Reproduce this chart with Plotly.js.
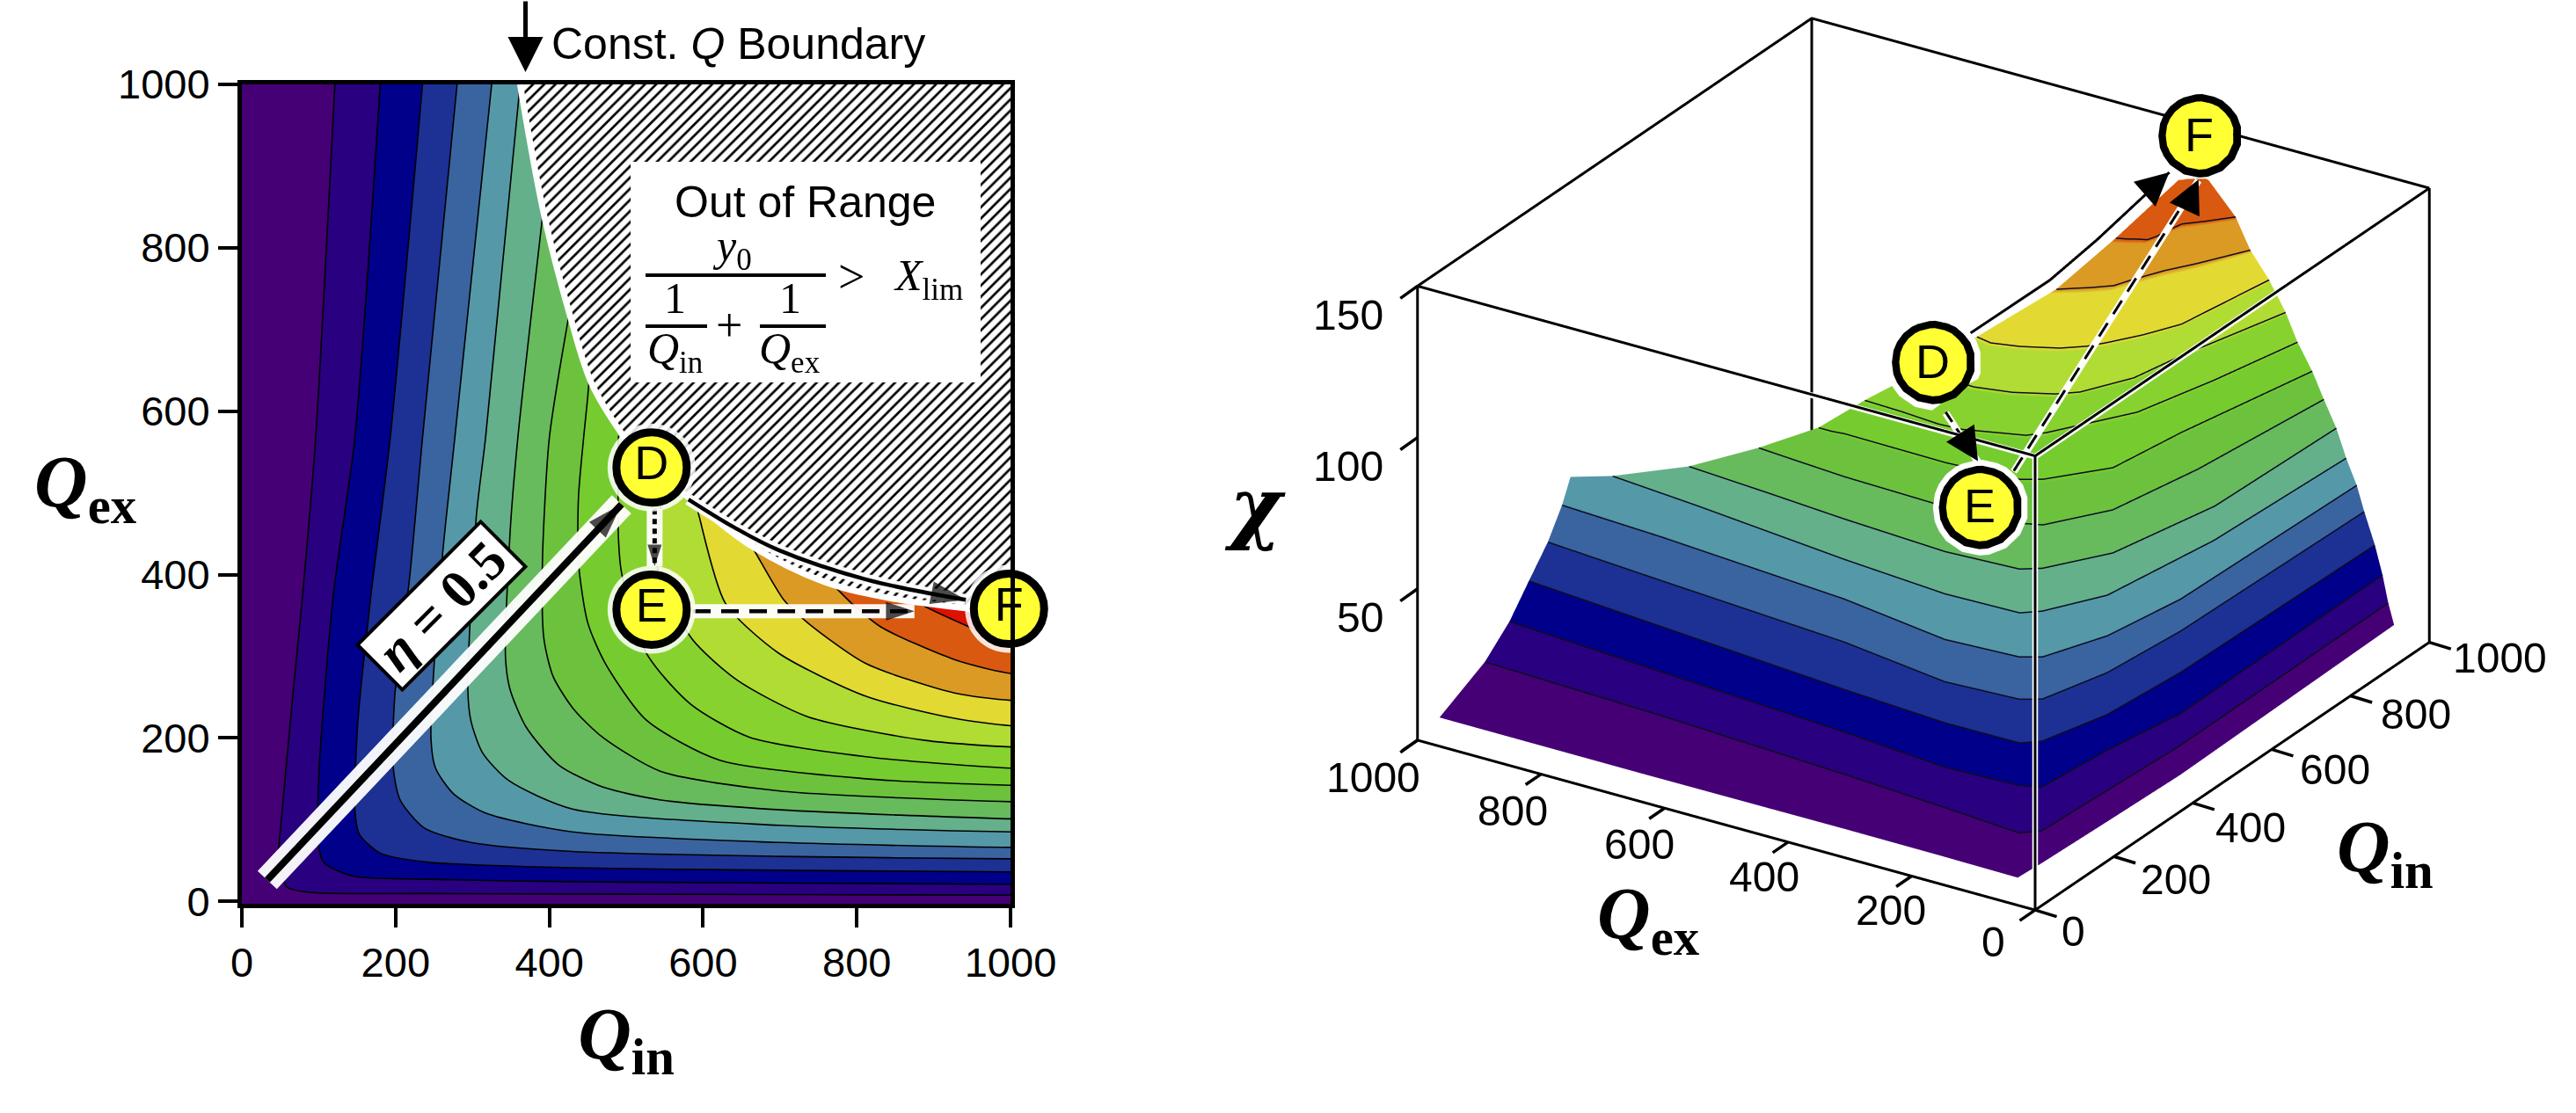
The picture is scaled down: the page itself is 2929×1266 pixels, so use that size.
<!DOCTYPE html>
<html><head><meta charset="utf-8"><script src="https://cdn.plot.ly/plotly-3.0.1.min.js"></script>
<style>html,body{margin:0;padding:0;background:#fff}</style></head><body><div id="g" style="width:2929px;height:1266px"></div>
<script>
var bandColors=['#450076','#29007f','#00008b','#1c3193','#3a64a0','#5599a8','#64b08a','#68bb5d','#6cc23c','#76cc2e','#88d22f','#b0dc34','#e2da33','#db9a23','#d8590f','#dd1100'];
// left panel: contour lines as [Qin,Qex]
var contours2d=[
[[121,1000],[96,567],[79,375],[67,259],[50,86],[48,59],[58,18],[88,11],[241,9.5],[430,9],[1000,7.5]],
[[180,1000],[147,567],[119,375],[100,151],[100,67],[107,47],[145,31],[241,27],[430,24],[1000,21]],
[[235,1000],[193,567],[168,375],[151,221],[147,113],[153,82],[180,59],[241,48],[430,41],[700,38],[1000,36]],
[[280,1000],[235,567],[218,394],[199,252],[197,163],[206,124],[237,90],[298,72],[430,61],[700,55],[1000,52]],
[[325,1000],[277,567],[260,413],[246,201],[252,163],[275,132],[317,108],[430,85],[700,72],[1000,66]],
[[362,1000],[317,567],[305,471],[294,259],[298,221],[313,182],[347,148],[430,113],[700,93],[1000,85]],
[[392,845],[359,567],[349,452],[343,298],[349,259],[370,213],[412,167],[469,140],[545,124],[700,112],[1000,101]],
[[426,720],[400,567],[391,413],[393,321],[405,275],[431,236],[469,201],[545,159],[700,135],[1000,122]],
[[452,640],[450,618],[438,496],[438,414],[450,341],[473,291],[526,222],[621,173],[812,150],[1000,142]],
[[490,570],[490,443],[494,402],[526,304],[583,242],[660,201],[812,177],[1000,163]],
[[545,520],[545,480],[541,406],[585,322],[644,271],[736,226],[889,197],[1000,189]],
[[590,490],[595,471],[629,365],[698,304],[812,251],[927,224],[1000,215]],
[[655,445],[663,435],[705,369],[736,341],[812,291],[927,255],[1000,246]],
[[745,405],[755,400],[793,365],[831,336],[927,296],[1000,279]],
[[875,372],[885,363],[946,336],[1000,315]]
];
var boundaryQin=[362,393,426,455,493,530,560,600,663,758,850,948,1000];
var boundaryQex=[1000,841,720,634,574,530,510,480,435,391,370,358,350];
var tickVals=[0,200,400,600,800,1000];
var chiTicks=[0,50,100,150];
var etaQin=[33,494],etaQex=[26,486];
var pointNames=['D','E','F'],pointQin=[533,533,998],pointQex=[531,357,358];
var curveQin=[581,640,698,812,942],curveQex=[492,458,430,394,369];
var deQin=[537,537],deQex=[480,410];
var efQin=[587,875],efQex=[355,355];

// right panel: surface rows, one row per chi level
var surfaceChi=[8,17,26,35,44,53,57.5,62,71,80,89,98,107,116,125,134,142];
var surfaceQin=[
[12,11,12,11,9,64,222,401,956],
[121,107,85,70,57,78,234,408,938],
[174,151,125,105,111,123,269,419,936],
[223,198,165,150,151,172,290,457,937],
[268,248,219,187,195,212,330,494,946],
[304,292,261,227,235,252,356,506,938],
[349,317,278,252,257,277,381,533,935],
[346,329,294,276,280,301,391,615,930],
[355,343,329,316,324,343,435,634,930],
[383,376,369,363,374,386,477,647,925],
[408,408,411,408,418,435,517,661,919],
[442,439,433,436,467,489,610,750,913],
[495,488,485,499,526,549,626,719,911],
[548,542,554,579,603,627,675,731,913],
[660,675,690,712,738,765,789,831,906],
[767,773,780,786,802,823,853,878,911],
[903,907,912,915,919,921,923,926,925]
];
var surfaceQex=[
[972,644,318,155,34,31,26,21,29],
[968,670,364,192,63,40,33,25,27],
[962,699,390,214,97,68,55,33,35],
[962,728,415,242,122,99,69,56,48],
[960,759,449,266,150,124,94,80,71],
[960,788,476,291,176,149,110,88,78],
[975,803,487,307,190,165,126,105,85],
[905,756,496,322,204,181,133,103,90],
[787,656,519,348,232,207,152,114,106],
[692,620,544,377,263,234,179,150,123],
[611,590,571,405,291,265,204,185,138],
[558,496,433,397,313,294,224,190,158],
[496,456,409,355,303,278,240,223,176],
[444,418,378,329,302,285,256,230,204],
[387,369,350,327,317,305,294,269,230],
[359,345,333,320,315,313,307,284,257],
[344,339,336,331,326,322,319,315,310]
];
var P3={D:[443,449,117],E:[269,262,95],F:[975,357,150]};
var solid3=[[520,437,120],[639,384,130],[716,357,138],[884,347,146]];
var de3=[[389,393,108],[347,314,100]];
var ef3=[[347,256,100],[886,301,146]];

function col(a,i){return a.map(function(r){return r[i]})}
var px=function(x){return x/2929},py=function(y){return 1-y/1266};
var traces=[];
contours2d.forEach(function(c,i){
  var xs=col(c,0),ys=col(c,1);
  var fx=xs.concat([1060,1200,xs[0]]),fy=ys.concat([ys[ys.length-1],1200,1200]);
  traces.push({type:'scatter',x:fx,y:fy,mode:'lines',fill:'toself',fillcolor:bandColors[i+1],line:{color:'black',width:1.6,shape:'spline',smoothing:0.7},hoverinfo:'skip',showlegend:false,xaxis:'x',yaxis:'y'});
});
traces.push({type:'scatter',x:boundaryQin.concat([1000,362]),y:boundaryQex.concat([1000,1000]),mode:'none',fill:'toself',fillcolor:'white',fillpattern:{shape:'/',fgcolor:'black',bgcolor:'white',size:9,solidity:0.3},showlegend:false,hoverinfo:'skip'});
traces.push({type:'scatter',x:boundaryQin,y:boundaryQex,mode:'lines',line:{color:'white',width:7,shape:'spline'},showlegend:false,hoverinfo:'skip'});
function arrow2d(x,y,dash,w,hw,ms){
 traces.push({type:'scatter',x:x,y:y,mode:'lines',line:{color:'white',width:hw,shape:'spline'},opacity:.95,showlegend:false,hoverinfo:'skip'});
 traces.push({type:'scatter',x:x,y:y,mode:'lines+markers',line:{color:'black',width:w,dash:dash,shape:'spline'},marker:{symbol:'arrow',angleref:'previous',size:x.map(function(v,i){return i==x.length-1?ms:0}),color:'black',line:{width:0}},showlegend:false,hoverinfo:'skip'});
}
arrow2d(etaQin,etaQex,'solid',8,30,42);
arrow2d(deQin,deQex,'6px,5px',5,18,26);
arrow2d(efQin,efQex,'20px,12px',4.5,16,34);
arrow2d(curveQin,curveQex,'solid',4.5,13,42);
traces.push({type:'scatter',x:pointQin,y:pointQex,mode:'markers',marker:{size:100,color:'rgba(255,255,255,0.85)'},cliponaxis:false,showlegend:false,hoverinfo:'skip'});
traces.push({type:'scatter',x:pointQin,y:pointQex,mode:'markers+text',text:pointNames,textposition:'middle center',textfont:{family:'Liberation Sans',size:54,color:'black'},marker:{size:80,color:'#ffff33',line:{color:'black',width:9}},cliponaxis:false,showlegend:false,hoverinfo:'skip'});

traces.push({type:'surface',x:surfaceQin,y:surfaceQex,z:surfaceChi.map(function(v){return surfaceQin[0].map(function(){return v})}),scene:'scene',showscale:false,cmin:8,cmax:152,
 colorscale:(function(){var s=[];bandColors.forEach(function(c,i){s.push([i/16,c]);s.push([(i+1)/16,c]);});return s})(),
 lighting:{ambient:1,diffuse:0,specular:0,fresnel:0,roughness:1},hoverinfo:'skip'});
surfaceChi.forEach(function(v,i){
 if(i==0||v%1||i==surfaceChi.length-1)return;
 traces.push({type:'scatter3d',mode:'lines',scene:'scene',x:surfaceQin[i].map(function(q){return q-6}),y:surfaceQex[i].map(function(q){return Math.max(0,q-4)}),z:surfaceQin[i].map(function(){return v+.7}),line:{color:'#0c0c20',width:3},hoverinfo:'skip',showlegend:false});
});
var N=NaN;
traces.push({type:'scatter3d',mode:'lines',scene:'scene',x:[14,14,1000,N,14,14],y:[1000,9,9,N,9,9],z:[148,148,148,N,0,148],line:{color:'white',width:13},hoverinfo:'skip',showlegend:false});
var box={x:[0,0,1000,N,0,0,N,0,0,0,1000,1000,0,0,N,1000,1000,N,1000,1000],
         y:[1000,0,0,N,0,0,N,1000,1000,0,0,1000,1000,1000,N,0,0,N,1000,1000],
         z:[0,0,0,N,0,150,N,0,150,150,150,150,150,150,N,0,150,N,0,150]};
traces.push({type:'scatter3d',mode:'lines',scene:'scene',x:box.x,y:box.y,z:box.z,line:{color:'black',width:6},hoverinfo:'skip',showlegend:false});
function dashes(p,n){var o=[[],[],[]];for(var k=0;k<n;k++){for(var d=0;d<3;d++){var a=p[0][d],b=p[1][d];o[d].push(a+(b-a)*k/n,a+(b-a)*(k+.6)/n,NaN);}}return o;}
function line3(p,n,w,hw){
 traces.push({type:'scatter3d',mode:'lines',scene:'scene',x:col(p,0).map(function(v){return v+14}),y:col(p,1).map(function(v){return v+9}),z:col(p,2).map(function(v){return v-2}),line:{color:'white',width:hw},hoverinfo:'skip',showlegend:false});
 var q=n?dashes(p,n):[col(p,0),col(p,1),col(p,2)];
 traces.push({type:'scatter3d',mode:'lines',scene:'scene',x:q[0],y:q[1],z:q[2],line:{color:'black',width:w},hoverinfo:'skip',showlegend:false});
}
line3(solid3,0,6,13);line3(de3,3,6,16);line3(ef3,13,6,16);
var pts=[P3.D,P3.E,P3.F];
[[63,'white',32],[55,'black',16],[45,'#ffff33',0]].forEach(function(m){
 var t=m[2];
 traces.push({type:'scatter3d',mode:'markers',scene:'scene',x:col(pts,0).map(function(v){return v+.916*t}),y:col(pts,1).map(function(v){return v+.579*t}),z:col(pts,2).map(function(v){return v-.1132*t}),marker:{size:m[0],color:m[1]},hoverinfo:'skip',showlegend:false});
});

var axis3={showbackground:false,showgrid:false,zeroline:false,showspikes:false,showline:false,ticks:'',showticklabels:false,title:{text:''}};
var L=Object.assign;
var eye=1.40,ev=[-0.7608,-0.4841,0.4324],cz=-0.184;
var lab=function(x,y,t,s,o){return L({xref:'paper',yref:'paper',x:px(x),y:py(y),text:t,showarrow:false,font:{family:'Liberation Sans',size:s,color:'black'},xanchor:'center',yanchor:'middle'},o||{})};
var serif='Liberation Serif';
function Q(x,y,sub){return lab(x,y,'<b><i>Q</i><sub>'+sub+'</sub></b>',84,{font:{family:serif,size:84,color:'black'}})}
var sf=function(x,y,t,s){return lab(x,y,t,s,{font:{family:serif,size:s,color:'black'}})};
var ann=[
 lab(839,50,'Const. <i>Q</i> Boundary',50),
 lab(916,230,'Out of Range',50),
 sf(832,283,'<i>y</i><sub>0</sub>',50),sf(968,315,'&gt;',54),sf(1055,317,'<i>X</i><sub>lim</sub>',50),
 sf(767,339,'1',50),sf(898,339,'1',50),sf(829,370,'+',54),sf(767,400,'<i>Q</i><sub>in</sub>',50),sf(898,400,'<i>Q</i><sub>ex</sub>',50),
 Q(97,555,'ex'),Q(1874,1046,'ex'),Q(2712,970,'in'),
 lab(1427,575,'<b><i>χ</i></b>',90,{font:{family:'DejaVu Serif',size:90,color:'black'}}),
 lab(502,689,'<b><i>η</i> = 0.5</b>',62,{font:{family:serif,size:62,color:'black'},textangle:-45,bgcolor:'white',bordercolor:'black',borderwidth:4,width:190,height:64,borderpad:2}),
 {xref:'paper',yref:'paper',axref:'pixel',ayref:'pixel',x:px(597.5),y:py(82),ax:0,ay:-82,text:'',showarrow:true,arrowhead:2,arrowsize:1.6,arrowwidth:5,arrowcolor:'black'}
];
var shapes=[
 {type:'rect',xref:'paper',yref:'paper',x0:px(717),x1:px(1115),y0:py(435),y1:py(184),fillcolor:'white',line:{width:0},layer:'above'},
 {type:'line',xref:'paper',yref:'paper',x0:px(734),x1:px(939),y0:py(313),y1:py(313),line:{color:'black',width:4}},
 {type:'line',xref:'paper',yref:'paper',x0:px(734),x1:px(804),y0:py(371),y1:py(371),line:{color:'black',width:4}},
 {type:'line',xref:'paper',yref:'paper',x0:px(864),x1:px(939),y0:py(371),y1:py(371),line:{color:'black',width:4}}
];
var tickFont={family:'Liberation Sans',size:48,color:'black'};
function a3(p,ax,ay,t,o){return L({x:p[0],y:p[1],z:p[2],text:t||'',showarrow:!t,ax:ax,ay:ay,arrowhead:2,arrowsize:1.5,arrowwidth:5,arrowcolor:'black',font:{family:'Liberation Sans',size:54,color:'black'}},o||{})}
function tick3(x,y,z,ax,ay){return {x:x,y:y,z:z,text:'',showarrow:true,arrowhead:0,ax:ax,ay:ay,arrowwidth:3.5,arrowcolor:'black',standoff:0}}
function label3(x,y,z,t,xs,ys,anchor){return {x:x,y:y,z:z,text:t,showarrow:false,xshift:xs,yshift:-ys,xanchor:anchor||'center',yanchor:'middle',font:tickFont}}
var sceneAnn=[a3(P3.D,0,0,'D'),a3(P3.E,0,0,'E'),a3(P3.F,0,0,'F'),a3(solid3[3],-25,22),a3(de3[1],-14,-22),a3(ef3[1],-14,30)];
var qexShift=[[-48,36],[-24,39],[-27,40],[-29,41],[-32,42],[-50,43]];
var qinShift=[[43,24],[70,26],[66,28],[72,23],[74,21],[80,18]];
tickVals.forEach(function(v,i){
 sceneAnn.push(tick3(0,v,0,-19,13));sceneAnn.push(label3(0,v,0,String(v),qexShift[i][0],qexShift[i][1]));
 sceneAnn.push(tick3(v,0,0,26,8));sceneAnn.push(label3(v,0,0,String(v),qinShift[i][0],qinShift[i][1]));
});
chiTicks.forEach(function(v){
 sceneAnn.push(tick3(0,1000,v,-21,15));
 if(v)sceneAnn.push(label3(0,1000,v,String(v),-37,33,'right'));
});
var tf={family:'Liberation Sans',size:47,color:'black'};
var layout={width:2929,height:1266,margin:{l:0,r:0,t:0,b:0},paper_bgcolor:'rgba(0,0,0,0)',plot_bgcolor:bandColors[0],showlegend:false,
 xaxis:{domain:[px(275),px(1149)],range:[0,1000],tickvals:tickVals,ticks:'outside',ticklen:22,tickwidth:4,tickcolor:'black',showline:true,mirror:true,linewidth:5,linecolor:'black',showgrid:false,zeroline:false,tickfont:tf,title:{text:'<b><i>Q</i><sub>in</sub></b>',font:{family:serif,size:84,color:'black'},standoff:27},anchor:'y'},
 yaxis:{domain:[py(1028),py(96)],range:[-3,1000],tickvals:tickVals,ticks:'outside',ticklen:22,tickwidth:4,tickcolor:'black',showline:true,mirror:true,linewidth:5,linecolor:'black',showgrid:false,zeroline:false,tickfont:tf,anchor:'x'},
 annotations:ann,shapes:shapes,
 scene:{domain:{x:[px(1445),1],y:[0,1]},aspectmode:'manual',aspectratio:{x:1.319,y:1.315,z:0.905},
  camera:{projection:{type:'orthographic'},up:{x:0,y:0,z:1},center:{x:0,y:0,z:cz},eye:{x:eye*ev[0],y:eye*ev[1],z:eye*ev[2]+cz}},
  xaxis:L({},axis3,{range:[0,1000]}),
  yaxis:L({},axis3,{range:[0,1000]}),
  zaxis:L({},axis3,{range:[0,150]}),
  annotations:sceneAnn
 }
};
Plotly.newPlot('g',traces,layout,{displayModeBar:false});
</script></body></html>
